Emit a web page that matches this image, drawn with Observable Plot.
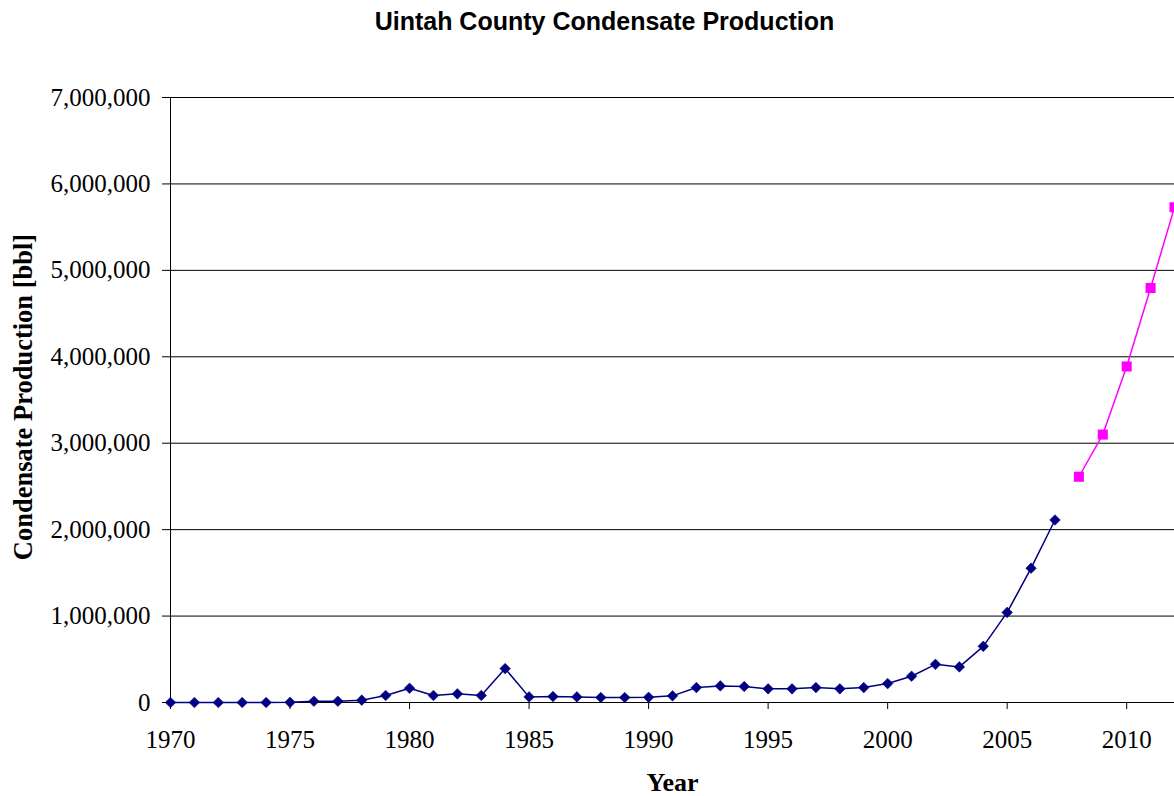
<!DOCTYPE html>
<html>
<head>
<meta charset="utf-8">
<script src="https://cdn.jsdelivr.net/npm/d3@7"></script>
<script src="https://cdn.jsdelivr.net/npm/@observablehq/plot@0.6"></script>
<style>
  html, body { margin: 0; padding: 0; background: #fff; overflow: hidden; }
</style>
</head>
<body>
<div id="chart"></div>
<script>
// Uintah County condensate production, barrels per year
const actualYears = [1970, 1971, 1972, 1973, 1974, 1975, 1976, 1977, 1978, 1979,
                     1980, 1981, 1982, 1983, 1984, 1985, 1986, 1987, 1988, 1989,
                     1990, 1991, 1992, 1993, 1994, 1995, 1996, 1997, 1998, 1999,
                     2000, 2001, 2002, 2003, 2004, 2005, 2006, 2007];
const actualValues = [0, 0, 0, 0, 0, 2000, 15000, 15000, 27000, 81000,
                      165000, 81000, 100000, 81000, 392000, 65000, 69000, 65000, 58000, 58000,
                      60000, 77000, 173000, 192000, 185000, 158000, 158000, 173000, 158000, 173000,
                      219000, 304000, 442000, 412000, 650000, 1042000, 1554000, 2112000];

// Projected production
const forecastYears = [2008, 2009, 2010, 2011, 2012];
const forecastValues = [2612000, 3100000, 3888000, 4796000, 5730000];

// Axis ticks
const xTicks = [1970, 1975, 1980, 1985, 1990, 1995, 2000, 2005, 2010];
const yTicks = [0, 1000000, 2000000, 3000000, 4000000, 5000000, 6000000, 7000000];

const titleText = "Uintah County Condensate Production";
const xLabel = "Year";
const yLabel = "Condensate Production [bbl]";

const actual = actualYears.map((year, i) => ({year, value: actualValues[i]}));
const forecast = forecastYears.map((year, i) => ({year, value: forecastValues[i]}));

const serif = "'Liberation Serif', 'Times New Roman', serif";
const sans = "'Liberation Sans', Arial, sans-serif";

const chart = Plot.plot({
  width: 1174,
  height: 796,
  marginTop: 97,
  marginBottom: 94,
  marginLeft: 170,
  marginRight: 0,
  style: {fontFamily: serif, fontSize: "25px", color: "#000", background: "#fff"},
  x: {domain: [1970, 2012], nice: false},
  y: {domain: [0, 7000000], nice: false},
  marks: [
    // horizontal gridlines
    Plot.ruleY(yTicks.slice(1), {stroke: "#000", strokeWidth: 1}),
    // axis lines
    Plot.ruleX([1970], {stroke: "#000", strokeWidth: 1}),
    Plot.ruleY([0], {stroke: "#000", strokeWidth: 1}),
    Plot.axisY({
      ticks: yTicks, tickSize: 8, tickPadding: 12, label: null,
      tickFormat: d3.format(","), fontSize: 25, stroke: "#000"
    }),
    Plot.axisX({
      ticks: xTicks, tickSize: 7, tickPadding: 21, label: null,
      tickFormat: d => String(d), fontSize: 25, stroke: "#000"
    }),
    // historical production
    Plot.line(actual, {x: "year", y: "value", stroke: "#000080", strokeWidth: 1.5}),
    Plot.dot(actual, {x: "year", y: "value", symbol: "diamond2", r: 4.8, fill: "#000080", stroke: "#000080", strokeWidth: 0.5}),
    // projected production
    Plot.line(forecast, {x: "year", y: "value", stroke: "#FF00FF", strokeWidth: 1.5}),
    Plot.dot(forecast, {x: "year", y: "value", symbol: "square2", r: 6.4, fill: "#FF00FF", stroke: "none"}),
    // title and axis titles
    Plot.text([titleText], {
      frameAnchor: "top", dx: -68, dy: -85, text: d => d, textAnchor: "middle",
      fontFamily: sans, fontWeight: "bold", fontSize: 25, fill: "#000"
    }),
    Plot.text([xLabel], {
      frameAnchor: "bottom", dy: 88, text: d => d, textAnchor: "middle",
      fontWeight: "bold", fontSize: 26, fill: "#000"
    }),
    Plot.text([yLabel], {
      frameAnchor: "left", dx: -147, dy: -3, rotate: -90, text: d => d, textAnchor: "middle",
      fontWeight: "bold", fontSize: 26.5, fill: "#000"
    })
  ]
});

document.getElementById("chart").appendChild(chart);
</script>
</body>
</html>
